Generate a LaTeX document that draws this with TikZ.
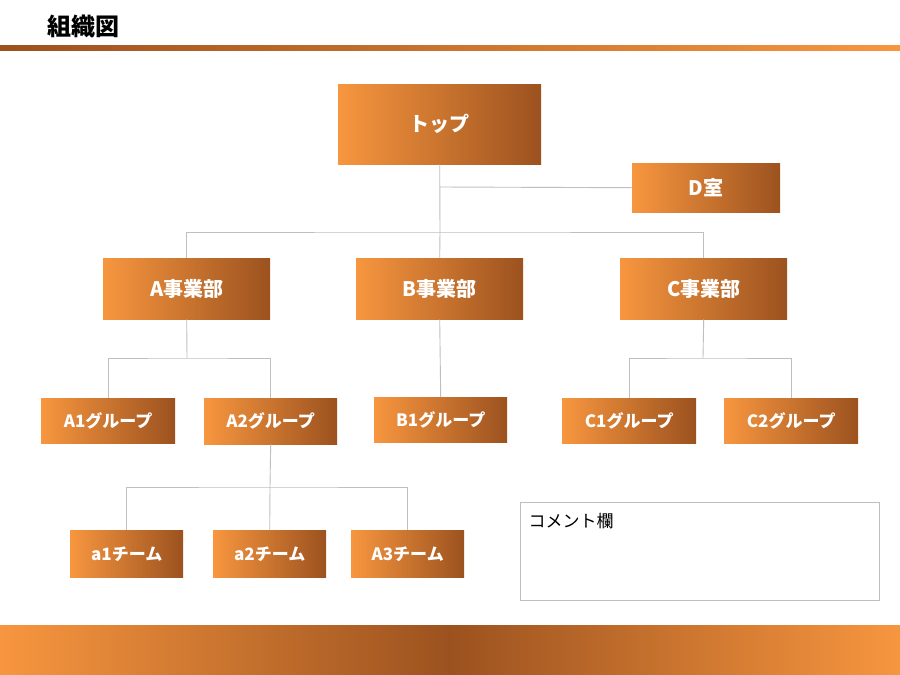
\documentclass[tikz,border=0pt]{standalone}
\usepackage{fontspec}
\setmainfont{Noto Sans CJK JP}
\definecolor{olight}{HTML}{F7963F}
\definecolor{odark}{HTML}{9C521F}
\definecolor{lgray}{HTML}{BFBFBF}
\tikzset{
  box/.style={anchor=north west,inner sep=0pt,left color=olight,right color=odark,
    text=white,font=\bfseries\fontsize{17}{17}\selectfont,draw=none},
  conn/.style={draw=lgray,line width=0.9pt}
}
\newcommand{\bx}[6]{\node[box,minimum width=#4-#2,minimum height=#5-#3] (#1) at (#2,#3) {#6};}
\begin{document}
\begin{tikzpicture}[x=1pt,y=-1pt]
\useasboundingbox (0,0) rectangle (900,675);
\fill[white] (0,0) rectangle (900,675);
\node[anchor=west,font=\bfseries\fontsize{24}{24}\selectfont] (title) at (44,26) {組織図};
\shade[left color=odark,right color=olight] (0,45) rectangle (900,50);
\shade[left color=olight,right color=odark] (0,625) rectangle (450,675);
\shade[left color=odark,right color=olight] (450,625) rectangle (900,675);
\coordinate (j1) at (440,187);
\coordinate (j2) at (440,232);
\coordinate (ja) at (187,358);
\coordinate (jc) at (703,358);
\coordinate (ja2) at (270,487);
\bx{top}{338}{84}{541}{164}{\fontsize{20}{20}\selectfont トップ}
\bx{D}{632}{163}{780}{212}{\fontsize{20}{20}\selectfont D室}
\bx{A}{103}{258}{270}{319}{\fontsize{20}{20}\selectfont A事業部}
\bx{B}{356}{258}{523}{319}{\fontsize{20}{20}\selectfont B事業部}
\bx{C}{620}{258}{787}{319}{\fontsize{20}{20}\selectfont C事業部}
\bx{A1}{41}{398}{175}{443}{A1グループ}
\bx{A2}{204}{398}{337}{444}{A2グループ}
\bx{B1}{374}{397}{507}{442}{B1グループ}
\bx{C1}{562}{398}{696}{443}{C1グループ}
\bx{C2}{724}{398}{858}{443}{C2グループ}
\bx{a1}{70}{530}{183}{577}{a1チーム}
\bx{a2}{213}{530}{326}{577}{a2チーム}
\bx{a3}{351}{530}{464}{577}{A3チーム}
\draw[conn] (top.south) -- (j2);
\draw[conn] (j1) -- (D.west);
\draw[conn] (A.north) |- (j2) -| (C.north);
\draw[conn] (j2) -- (B.north);
\draw[conn] (A.south) -- (ja);
\draw[conn] (A1.north) |- (ja) -| (A2.north);
\draw[conn] (B.south) -- (B1.north);
\draw[conn] (C.south) -- (jc);
\draw[conn] (C1.north) |- (jc) -| (C2.north);
\draw[conn] (A2.south) -- (ja2);
\draw[conn] (a1.north) |- (ja2) -| (a3.north);
\draw[conn] (ja2) -- (a2.north);
\node[anchor=north west,draw=lgray,line width=0.8pt,minimum width=359,minimum height=98,inner sep=0pt] (cm) at (520,502) {};
\node[anchor=north west,font=\fontsize{17}{17}\selectfont] (cmt) at (525,510) {コメント欄};
\end{tikzpicture}
\end{document}
